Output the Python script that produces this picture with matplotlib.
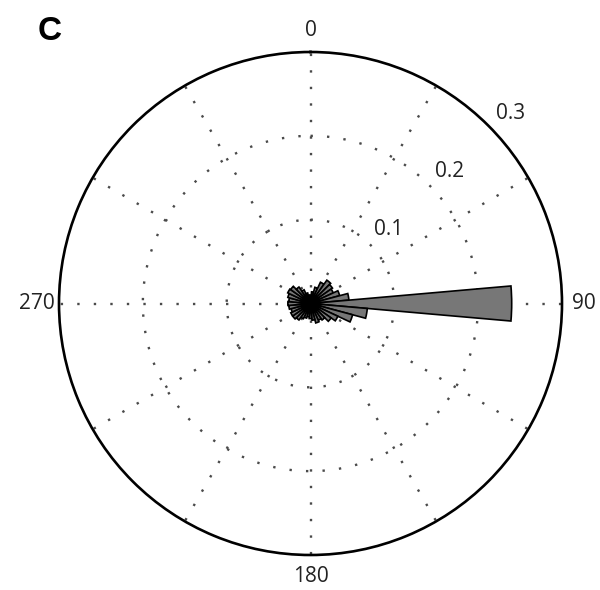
import numpy as np
import matplotlib
matplotlib.use("Agg")
import matplotlib.pyplot as plt

# Rose histogram: 36 bins of 10 degrees, compass convention (0 at top, clockwise)
bin_centers_deg = [0, 10, 20, 30, 40, 50, 60, 70, 80, 90, 100, 110,
                   120, 130, 140, 150, 160, 170, 180, 190, 200, 210, 220, 230,
                   240, 250, 260, 270, 280, 290, 300, 310, 320, 330, 340, 350]
fractions = [0.010, 0.014, 0.020, 0.028, 0.034, 0.032, 0.030, 0.036, 0.046, 0.240, 0.068, 0.052,
             0.036, 0.030, 0.024, 0.022, 0.024, 0.020, 0.018, 0.016, 0.018, 0.020, 0.024, 0.026,
             0.026, 0.024, 0.026, 0.027, 0.026, 0.028, 0.030, 0.029, 0.024, 0.018, 0.013, 0.010]
bin_width_deg = 10

ring_values = [0.1, 0.2, 0.3]
ring_labels = ["0.1", "0.2", "0.3"]
angle_ticks = [0, 90, 180, 270]
angle_labels = ["0", "90", "180", "270"]
spoke_angles = [0, 30, 60, 90, 120, 150, 180, 210, 240, 270, 300, 330]
rmax = 0.3
panel_label = "C"

plt.rcParams['font.family'] = ['Open Sans', 'DejaVu Sans']

fig = plt.figure(figsize=(6.0, 5.9), dpi=100)
ax = fig.add_axes([59 / 600, 35 / 590, 503 / 600, 503 / 590], projection='polar')
ax.set_theta_zero_location('N')
ax.set_theta_direction(-1)
ax.set_ylim(0, rmax)
ax.grid(False)
ax.set_xticks([])
ax.set_yticks([])
ax.spines['polar'].set_linewidth(1.9)
ax.spines['polar'].set_color('black')

dot_style = dict(color='#4a4a4a', linewidth=1.7, linestyle=(0, (1, 6)),
                 dash_capstyle='butt', zorder=1)

# dotted rings
t = np.linspace(0, 2 * np.pi, 721)
for rv in ring_values[:-1]:
    ax.plot(t, np.full_like(t, rv), **dot_style)

# dotted spokes
for a in spoke_angles:
    th = np.deg2rad(a)
    ax.plot([th, th], [0, rmax], **dot_style)

# rose bars
ax.bar(np.deg2rad(bin_centers_deg), fractions, width=np.deg2rad(bin_width_deg),
       bottom=0, color='#777777', edgecolor='black', linewidth=1.2, zorder=3)

# ring labels
label_angle = np.deg2rad(46.5)
for rv, lab in zip(ring_values, ring_labels):
    ax.text(label_angle, rv + 0.029, lab, ha='center', va='center',
            fontsize=15, color='#222222', clip_on=False)

# angle labels
for a, lab in zip(angle_ticks, angle_labels):
    ax.text(np.deg2rad(a), 0.326, lab, ha='center', va='center',
            fontsize=15, color='#222222', clip_on=False)

fig.text(50 / 600, 1 - 31 / 590, panel_label, ha='center', va='center',
         fontsize=24, fontweight='bold', family=['Liberation Sans', 'DejaVu Sans'])

fig.savefig('out.png', dpi=100)
